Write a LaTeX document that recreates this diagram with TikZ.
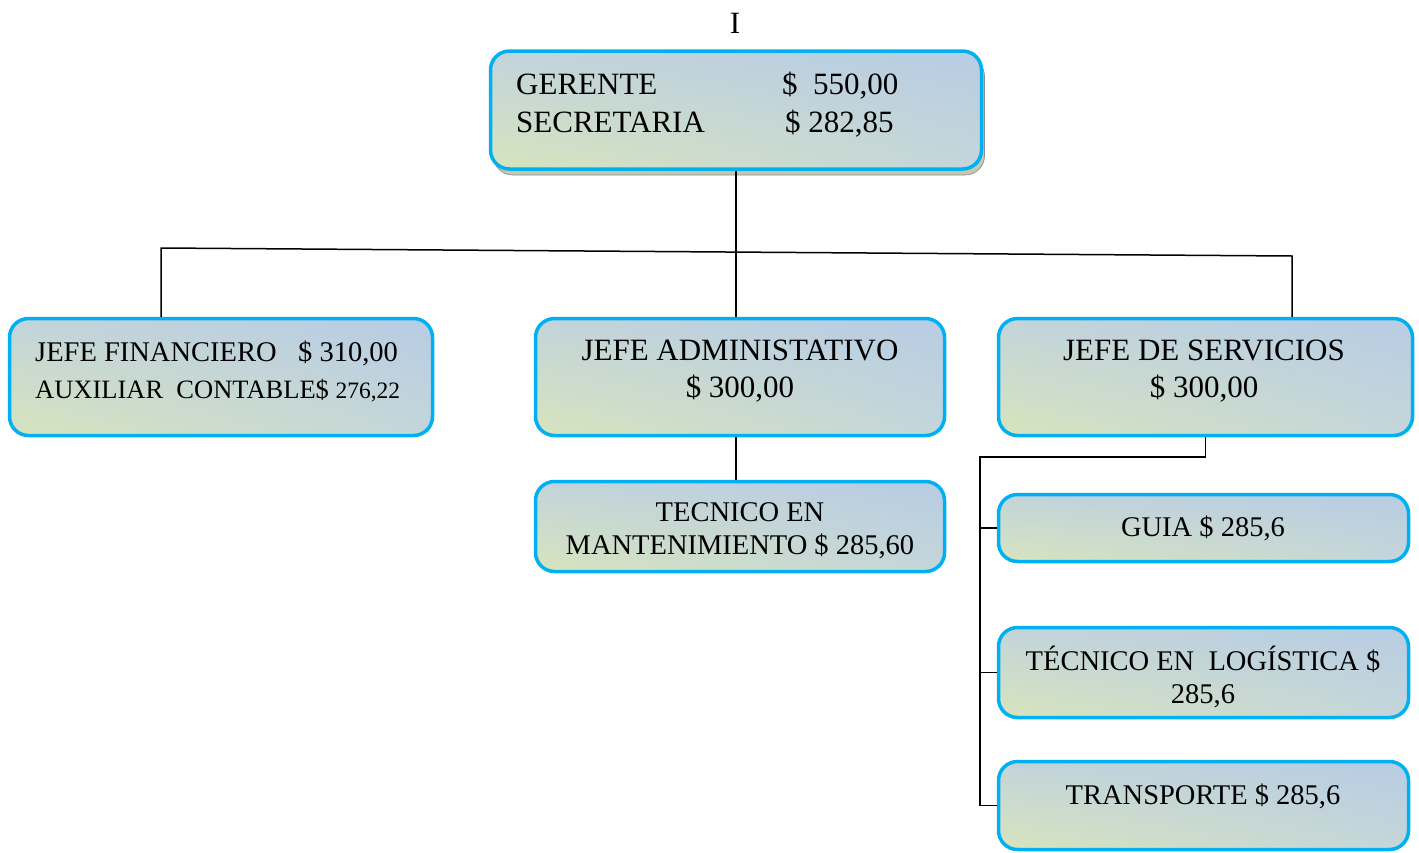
\documentclass[tikz,border=0pt]{standalone}
\usepackage{fontspec}
\setmainfont{Liberation Serif}
\usetikzlibrary{shadings,shadows}

\definecolor{boxline}{HTML}{00B0F0}
\definecolor{boxul}{HTML}{C2D4DA}
\definecolor{boxur}{HTML}{B8CCE4}
\definecolor{boxll}{HTML}{D7E4BD}
\definecolor{boxlr}{HTML}{C4D6DA}
\definecolor{shadowcol}{HTML}{C4C8AE}

\newcommand\fjefe{\fontsize{31}{37}\selectfont}
\newcommand\fsub{\fontsize{28.5}{33}\selectfont}
\newcommand\faux{\fontsize{26.5}{30}\selectfont}

\begin{document}
\begin{tikzpicture}[x=1pt,y=-1pt,
  cargo/.style={draw=boxline,line width=3.5pt,rounded corners=19pt,
    upper left=boxul,upper right=boxur,lower left=boxll,lower right=boxlr,
    inner sep=0pt},
  txt/.style={inner sep=0pt,align=center}]
\useasboundingbox (0,0) rectangle (1419,852);

\node [txt,font=\fjefe] (tit) at (735,23) {I};

\node [cargo,minimum width=491,minimum height=118,
  drop shadow={shadow xshift=3pt,shadow yshift=-6pt,fill=shadowcol,draw=black!45,line width=0.6pt,opacity=1}]
  (ger) at (736,110) {};
\node [cargo,minimum width=423,minimum height=117] (fin) at (221,377) {};
\node [cargo,minimum width=409,minimum height=117] (adm) at (740,377) {};
\node [cargo,minimum width=414,minimum height=117] (ser) at (1205.5,377) {};
\node [cargo,minimum width=409,minimum height=90] (man) at (740,526.5) {};
\node [cargo,minimum width=410,minimum height=67] (gui) at (1203.5,528) {};
\node [cargo,minimum width=410,minimum height=90] (log) at (1203.5,672.5) {};
\node [cargo,minimum width=410,minimum height=88] (tra) at (1203.5,805.5) {};

\node [txt,anchor=west,font=\fjefe] (gerA) at (516,86) {\makebox[266pt][l]{GERENTE}\$\ \ 550,00};
\node [txt,anchor=west,font=\fjefe] (gerB) at (516,124) {\makebox[269pt][l]{SECRETARIA}\$ 282,85};
\node [txt,anchor=west,font=\fsub] (finA) at (35,353) {\makebox[263pt][l]{JEFE FINANCIERO}\$ 310,00};
\node [txt,anchor=west,font=\faux] (finB) at (35,391) {AUXILIAR\ \ CONTABLE\$ {\fontsize{23.5}{26}\selectfont 276,22}};
\node [txt,font=\fjefe] (admT) at (740,371.5) {JEFE ADMINISTATIVO\\\$ 300,00};
\node [txt,font=\fjefe] (serT) at (1204,371.5) {JEFE DE SERVICIOS\\\$ 300,00};
\node [txt,font=\fsub] (manT) at (740,530.5) {TECNICO EN\\MANTENIMIENTO \$ 285,60};
\node [txt,font=\fsub] (guiT) at (1203,528) {GUIA \$ 285,6};
\node [txt,font=\fsub] (logT) at (1203,676.5) {TÉCNICO EN\ \ LOGÍSTICA \$\\285,6};
\node [txt,font=\fsub] (traT) at (1203,796) {TRANSPORTE \$ 285,6};

\coordinate (busL) at (161,248);
\coordinate (busR) at (1292,256);
\coordinate (svL) at (980,457);

\draw [line width=1.5pt] (ger.south) -- (ger.south |- adm.north);
\draw [line width=1.5pt] (fin.north -| busL) -- (busL) -- (busR) -- (ser.north -| busR);
\draw [line width=1.5pt] (adm.south -| ger.south) -- (man.north -| ger.south);
\draw [line width=1.5pt] (ser.south) -- (ser.south |- svL) -- (svL) |- (tra.west);
\draw [line width=1.5pt] (svL |- gui.west) -- (gui.west);
\draw [line width=1.5pt] (svL |- log.west) -- (log.west);

\end{tikzpicture}
\end{document}
